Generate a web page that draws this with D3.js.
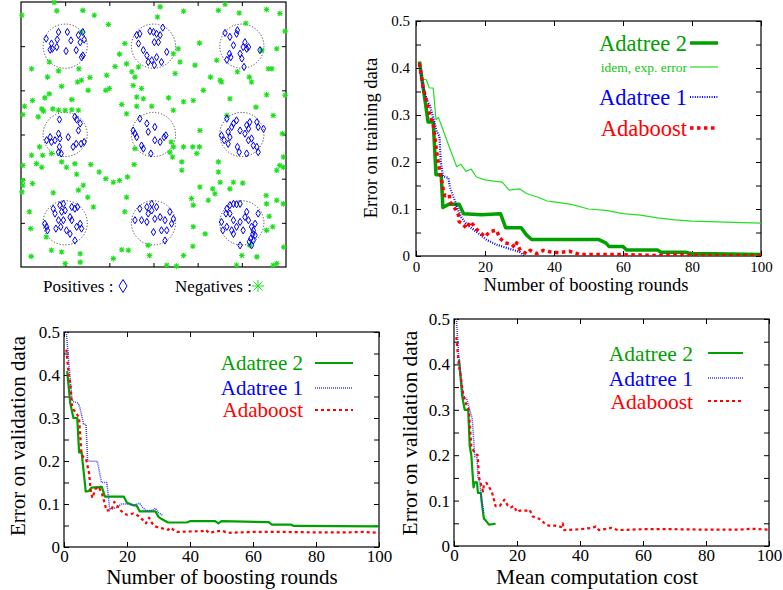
<!DOCTYPE html>
<html>
<head>
<meta charset="utf-8">
<script src="https://cdn.jsdelivr.net/npm/d3@7"></script>
<style>
  body { margin: 0; background: #fff; }
  svg { display: block; }
  svg text { font-family: "Liberation Serif", "Times New Roman", serif !important; }
</style>
</head>
<body>
<div id="chart"></div>
<script>
// ---- data: scatter (top left) ----
var circleCenters = [[1,5],[3,5],[5,5],[1,3],[3,3],[5,3],[1,1],[3,1],[5,1]];
var circleRadius = 0.5;

var positives = [
  // (1,5)
  [0.57,5.17],[0.69,5.06],[0.66,4.92],[0.71,4.94],[0.85,5.32],[0.82,5.15],[0.81,4.98],[1.05,5.32],[1.02,4.89],
  [1.13,5.13],[1.25,4.91],[1.30,5.25],[1.34,5.09],[1.40,5.32],[1.43,5.15],[1.40,4.79],[1.37,4.75],
  // (3,5)
  [2.62,5.25],[2.69,5.28],[2.92,5.34],[3.00,5.32],[3.07,5.28],[3.21,5.42],[3.15,5.25],[3.02,5.09],[3.11,5.09],
  [2.77,4.91],[2.85,4.79],[2.88,4.64],[2.96,4.68],[3.02,4.57],[3.07,4.75],[3.18,4.64],[3.30,4.87],[2.66,5.06],
  // (5,5)
  [4.62,5.30],[4.73,5.21],[4.88,5.28],[4.90,5.36],[4.81,5.02],[4.72,4.83],[4.66,4.69],[4.75,4.75],[4.96,4.83],
  [5.00,4.72],[5.03,4.98],[5.07,5.09],[5.11,4.94],[5.05,4.53],[5.41,4.91],[5.15,4.98],
  // (1,3)
  [0.87,3.34],[1.22,3.40],[1.26,3.34],[1.34,3.25],[1.30,3.09],[0.66,2.94],[0.69,2.83],[0.77,2.87],[0.85,3.02],
  [0.88,2.91],[0.87,2.72],[0.91,2.57],[0.85,2.60],[1.07,2.94],[1.18,2.72],[1.25,2.79],[1.36,2.79],[1.43,2.83],[0.58,2.87],
  // (3,3)
  [2.69,3.36],[2.85,3.25],[3.03,3.17],[2.54,3.09],[2.58,3.02],[2.62,2.94],[2.73,2.75],[2.77,2.68],[2.94,2.57],
  [3.03,2.87],[3.15,2.83],[3.24,2.94],[3.28,2.98],[2.88,3.06],
  // (5,3)
  [4.66,3.36],[4.81,3.25],[4.88,3.32],[4.77,3.17],[4.69,3.06],[4.54,2.98],[4.60,2.87],[4.69,2.79],[4.73,2.94],
  [4.96,3.09],[5.11,3.21],[5.15,3.13],[5.18,3.28],[5.34,3.28],[5.37,3.17],[5.49,3.13],[4.90,2.72],[4.94,2.60],
  [5.11,2.57],[5.15,2.87],[5.22,2.91],[5.26,2.75],[5.34,2.72],[5.37,2.60],[5.07,3.02],
  // (1,1)
  [0.73,1.32],[0.77,1.21],[0.88,1.40],[0.92,1.25],[0.96,1.43],[1.00,1.28],[1.15,1.36],[1.22,1.32],[1.28,1.36],
  [1.11,1.13],[0.96,1.06],[0.90,0.91],[0.79,0.87],[0.54,0.98],[0.58,0.91],[0.60,0.83],[1.03,0.83],[1.11,0.75],
  [1.26,0.91],[1.34,0.98],[1.37,0.87],[1.22,0.60],[1.15,1.06],[0.85,1.06],
  // (3,1)
  [2.69,1.32],[2.85,1.36],[2.88,1.21],[2.96,1.28],[2.73,1.06],[2.85,1.02],[2.58,1.06],[3.03,1.09],[3.15,1.13],
  [3.26,1.06],[3.37,1.25],[3.45,1.09],[3.41,0.98],[3.30,0.83],[3.18,0.83],[3.00,0.79],[3.26,0.60],[2.96,1.43],[3.07,1.36],
  // (5,1)
  [4.66,1.32],[4.73,1.40],[4.81,1.43],[4.88,1.42],[4.96,1.43],[4.64,1.21],[4.73,1.21],[4.81,1.06],[4.54,1.02],
  [4.66,0.91],[4.77,0.83],[4.88,0.91],[4.96,1.02],[5.07,1.13],[5.11,1.25],[5.15,1.06],[5.37,1.21],[4.96,0.49],
  [5.22,0.91],[5.26,0.83],[5.25,0.75],[5.30,0.72],[5.20,0.64],[5.26,0.60],[5.17,0.57],[5.22,0.49],[5.30,0.98],
  [4.57,0.83],[4.81,0.75],[5.03,0.83]
];

var negatives = [
  [0.02,5.70],[0.75,5.99],[0.81,5.80],[1.40,5.81],[1.66,5.70],[1.37,5.32],[1.98,5.49],[2.35,5.06],[2.23,4.82],
  [2.13,4.54],[2.39,4.60],[2.51,4.42],[2.58,4.30],[2.54,4.11],[2.73,4.04],[2.62,3.85],[2.77,3.81],[2.66,4.53],
  [3.15,5.89],[3.09,5.66],[3.68,5.79],[4.04,5.07],[3.45,4.83],[3.56,4.94],[3.60,4.64],[3.49,4.38],[3.94,4.57],
  [4.29,4.30],[4.47,5.81],[4.51,4.23],[4.54,4.19],[4.43,4.68],[4.62,5.95],[4.94,5.75],[5.09,5.52],[4.90,4.42],
  [5.17,4.30],[5.22,4.19],[5.56,5.83],[5.86,5.74],[5.98,5.34],[5.79,4.94],[5.60,4.49],[5.68,4.49],[5.45,4.91],
  [0.24,4.49],[0.64,4.64],[0.85,4.44],[1.31,4.49],[1.56,4.29],[0.60,4.30],[1.28,4.19],[1.37,4.23],[0.92,4.09],
  [1.52,4.00],[0.64,3.92],[0.54,3.83],[0.26,3.77],[0.08,3.64],[0.04,3.45],[0.39,3.40],[0.47,3.58],[0.51,3.53],
  [0.72,3.58],[0.85,3.55],[1.00,3.55],[1.15,3.79],[1.15,3.56],[1.30,3.55],[1.94,4.34],[1.92,4.00],[2.00,4.04],
  [2.28,3.68],[2.39,3.47],[2.62,3.64],[2.96,3.64],[3.34,3.83],[3.68,3.74],[3.90,3.77],[4.13,4.00],[3.45,3.55],
  [4.73,3.81],[5.32,3.62],[5.56,3.90],[5.71,3.43],[5.98,3.89],[5.92,3.02],[4.66,3.43],[4.05,3.09],[3.40,2.83],
  [3.45,2.72],[3.37,2.60],[3.43,2.49],[3.68,2.72],[3.89,2.72],[4.04,2.72],[3.98,2.57],[3.64,2.38],[3.64,2.19],
  [2.58,2.68],[2.56,2.32],[4.47,2.38],[4.47,2.15],[4.51,1.92],[4.81,1.92],[5.02,1.90],[4.73,1.77],[4.34,1.77],
  [4.39,1.66],[4.05,1.81],[3.86,1.55],[3.90,1.40],[4.24,1.51],[5.55,1.62],[5.56,1.43],[5.79,1.51],[5.94,2.26],
  [5.86,2.30],[5.94,2.49],[5.79,2.19],[5.94,1.43],[5.62,1.15],[5.70,0.91],[5.95,0.45],[5.71,0.04],[5.79,0.08],
  [0.24,2.53],[0.42,2.72],[0.49,2.53],[0.35,2.34],[0.47,2.26],[0.69,2.57],[0.92,2.38],[1.03,2.26],[1.22,2.34],
  [1.58,2.32],[1.26,2.10],[1.41,1.85],[1.30,1.74],[1.77,2.15],[1.92,2.00],[2.09,1.92],[2.23,1.96],[2.41,2.04],
  [0.04,2.30],[0.04,1.96],[0.04,1.85],[0.02,1.70],[0.26,1.89],[0.73,1.68],[1.51,1.58],[1.64,1.36],[2.39,1.58],
  [2.35,1.25],[0.19,1.25],[0.22,0.87],[0.57,0.68],[0.69,0.38],[0.92,0.34],[1.00,0.08],[1.34,0.30],[1.34,0.11],
  [0.23,0.24],[2.09,0.19],[2.28,0.39],[2.43,0.38],[2.88,0.49],[2.91,0.26],[3.30,0.04],[3.52,0.02],[3.68,0.26],
  [3.89,0.47],[3.90,0.91],[4.17,0.75],[5.18,0.49],[5.00,0.26],[5.34,0.23],[4.88,0.04],[5.56,0.83]
];

// ---- data: error curves, [round or cost, error] ----
var xTickValues = [0, 20, 40, 60, 80, 100];
var xTickLabels = ["0", "20", "40", "60", "80", "100"];
var yTickValues = [0, 0.05, 0.1, 0.15, 0.2, 0.25, 0.3, 0.35, 0.4, 0.45, 0.5];
var yTickLabels = ["0", "", "0.1", "", "0.2", "", "0.3", "", "0.4", "", "0.5"];

var trainAdatree2 = [[1,0.414],[3.5,0.285],[5,0.285],[5.8,0.173],[7.3,0.173],[7.8,0.103],[9.5,0.11],[12.5,0.11],
  [13.8,0.09],[19,0.088],[24.5,0.09],[26,0.06],[30.5,0.06],[32,0.045],[33.5,0.035],[53,0.035],[55,0.028],[56,0.02],
  [60,0.02],[61,0.013],[70,0.013],[71,0.008],[78,0.008],[80,0.005],[86,0.005],[100,0.003]];
var trainAdatree2Exp = [[1,0.41],[1.6,0.377],[3,0.375],[3.8,0.358],[5,0.357],[5.8,0.29],[6.5,0.295],[8,0.265],
  [10,0.225],[11.8,0.19],[13,0.195],[14.5,0.18],[16,0.185],[17.5,0.168],[20,0.162],[22,0.16],[25,0.157],[27,0.14],
  [30,0.143],[32,0.133],[35,0.126],[38,0.117],[40,0.115],[45,0.11],[50,0.1],[55,0.097],[60,0.09],[65,0.087],
  [70,0.081],[75,0.077],[80,0.074],[85,0.073],[90,0.072],[100,0.07]];
var trainAdatree1 = [[1,0.41],[2,0.36],[3,0.335],[4,0.32],[5,0.295],[6,0.265],[6.8,0.255],[7.2,0.2],[7.8,0.17],
  [9.4,0.166],[9.8,0.147],[11.2,0.119],[12.2,0.098],[13.2,0.082],[14.7,0.067],[17.6,0.051],[20.5,0.034],
  [23.4,0.024],[27.2,0.015],[30,0.009],[31.4,0]];
var trainAdaboost = [[1,0.41],[2,0.36],[3,0.33],[4,0.3],[5,0.28],[6,0.22],[7,0.175],[7.7,0.151],[8,0.134],
  [8.4,0.128],[9.7,0.13],[9.8,0.116],[10.8,0.105],[11.6,0.098],[12.3,0.087],[12.5,0.073],[13.3,0.07],[14.7,0.059],
  [15.7,0.073],[16.6,0.066],[17.8,0.055],[20,0.041],[21.4,0.052],[23.3,0.055],[24.3,0.038],[25.8,0.028],
  [27.7,0.025],[28.7,0.018],[29.2,0.028],[30.2,0.012],[32.1,0.005],[33.1,0.012],[35,0.005],[36.9,0.012],
  [38.8,0.009],[41.3,0.007],[44.6,0.01],[47.5,0.003],[50.4,0.003],[55,0.003],[60,0.003],[65,0.002],[70,0.001],
  [75,0.003],[80,0.002],[85,0.001],[90,0.001],[100,0.001]];

var validAdatree2 = [[1,0.409],[2,0.334],[3,0.3],[4.2,0.3],[4.8,0.22],[5.6,0.22],[6.9,0.129],[7.8,0.13],
  [8.7,0.138],[12,0.14],[13,0.117],[19,0.117],[20,0.103],[21,0.1],[22,0.097],[23,0.097],[24,0.083],[29,0.083],
  [30,0.07],[31,0.065],[33,0.057],[39,0.057],[40,0.06],[48,0.06],[49,0.055],[50,0.06],[65,0.058],[66,0.052],
  [72,0.052],[73,0.049],[100,0.048]];
var validAdatree1 = [[0.75,0.5],[1.5,0.43],[2,0.39],[2.5,0.345],[3,0.338],[4.5,0.335],[5,0.325],[5.5,0.31],
  [6.2,0.286],[7,0.285],[7.5,0.2],[10.6,0.199],[11.9,0.15],[13.6,0.15],[14.5,0.088],[16,0.09],[17,0.093],
  [18.2,0.1],[20,0.1],[22,0.097],[24,0.102],[25,0.092],[26,0.085],[28,0.085],[29,0.09],[30,0.08],[31.4,0.073]];
var validAdaboost = [[0.75,0.459],[1.5,0.4],[2,0.38],[2.5,0.33],[3,0.32],[4,0.31],[4.8,0.3],[5.5,0.222],[6,0.21],
  [7,0.205],[8,0.17],[8.5,0.13],[9,0.114],[10,0.135],[11,0.14],[12,0.125],[13,0.1],[13.4,0.085],[15,0.085],
  [16,0.105],[17,0.095],[18,0.085],[19,0.078],[20,0.075],[22,0.078],[23,0.075],[24,0.07],[25,0.063],[26,0.055],
  [27,0.068],[28,0.055],[29,0.048],[30,0.045],[32,0.042],[33,0.04],[34,0.045],[35,0.038],[36,0.035],[40,0.036],
  [44,0.037],[45,0.04],[46,0.033],[50,0.038],[52,0.033],[60,0.035],[70,0.035],[80,0.034],[90,0.034],[95,0.035],
  [100,0.033]];

var costAdatree2 = [[1.6,0.41],[2.6,0.33],[3.4,0.3],[4.5,0.3],[5,0.22],[5.5,0.2],[6.2,0.129],[6.6,0.14],[7.3,0.14],
  [7.6,0.117],[8.5,0.117],[9,0.085],[9.5,0.06],[10,0.057],[11.1,0.047],[13.2,0.049]];
var costAdatree1 = [[0.74,0.5],[1.5,0.42],[2,0.39],[3,0.33],[4,0.325],[5,0.3],[5.8,0.28],[6.6,0.197],[7.3,0.195],
  [7.6,0.15],[8.2,0.14],[8.7,0.1],[9.1,0.09],[9.5,0.071]];
var costAdaboost = [[0.74,0.46],[1.5,0.4],[2,0.38],[3,0.33],[4,0.31],[4.7,0.3],[5.5,0.22],[6.6,0.204],[7.5,0.2],
  [8,0.15],[9.2,0.12],[9.5,0.135],[10.3,0.139],[12,0.12],[13.2,0.088],[14.5,0.088],[16,0.102],[17,0.09],[18,0.085],
  [19,0.088],[20,0.075],[21,0.078],[23,0.078],[24,0.08],[25,0.065],[27,0.06],[28,0.055],[29,0.048],[30,0.045],
  [32,0.045],[34,0.042],[34.5,0.05],[35,0.035],[40,0.037],[44,0.04],[45,0.043],[46,0.035],[50,0.04],[52,0.035],
  [60,0.037],[70,0.037],[80,0.036],[90,0.036],[95,0.038],[100,0.036]];

var serif = '"Liberation Serif", "Times New Roman", serif';

var svg = d3.select("#chart").append("svg")
  .attr("width", 783)
  .attr("height", 590)
  .style("font-family", serif);

// ---------------- scatter panel ----------------
var sx = d3.scaleLinear().domain([0, 6]).range([21, 286]);
var sy = d3.scaleLinear().domain([0, 6]).range([267, 2]);
var scatterTicks = [1, 2, 3, 4, 5];

function plainAxis(axis, tr) {
  var a = svg.append("g").attr("transform", tr)
    .call(axis.tickValues(scatterTicks).tickFormat("").tickSize(-4));
  a.select(".domain").remove();
  a.selectAll("line").attr("stroke", "#000");
}
plainAxis(d3.axisBottom(sx), "translate(0," + sy(0) + ")");
plainAxis(d3.axisTop(sx), "translate(0," + sy(6) + ")");
plainAxis(d3.axisLeft(sy), "translate(" + sx(0) + ",0)");
plainAxis(d3.axisRight(sy), "translate(" + sx(6) + ",0)");

svg.append("rect")
  .attr("x", sx(0)).attr("y", sy(6))
  .attr("width", sx(6) - sx(0)).attr("height", sy(0) - sy(6))
  .attr("fill", "none").attr("stroke", "#000").attr("stroke-width", 1.2);

svg.append("g").selectAll("circle")
  .data(circleCenters)
  .enter().append("circle")
  .attr("cx", function(d) { return sx(d[0]); })
  .attr("cy", function(d) { return sy(d[1]); })
  .attr("r", sx(circleRadius) - sx(0))
  .attr("fill", "none")
  .attr("stroke", "#333")
  .attr("stroke-width", 0.9)
  .attr("stroke-dasharray", "1.2,1.8");

function diamond(w, h) { return "M0," + (-h) + "L" + w + ",0L0," + h + "L" + (-w) + ",0Z"; }
function star(s) {
  var t = s * 0.75;
  return "M" + (-s) + ",0H" + s + "M0," + (-s) + "V" + s +
    "M" + (-t) + "," + (-t) + "L" + t + "," + t + "M" + (-t) + "," + t + "L" + t + "," + (-t);
}

svg.append("g").selectAll("path")
  .data(negatives)
  .enter().append("path")
  .attr("transform", function(d) { return "translate(" + sx(d[0]) + "," + sy(d[1]) + ")"; })
  .attr("d", star(2.8))
  .attr("fill", "none")
  .attr("stroke", "#1ee01e")
  .attr("stroke-width", 1.1);

svg.append("g").selectAll("path")
  .data(positives)
  .enter().append("path")
  .attr("transform", function(d) { return "translate(" + sx(d[0]) + "," + sy(d[1]) + ")"; })
  .attr("d", diamond(2.2, 3.6))
  .attr("fill", "none")
  .attr("stroke", "#0000ee")
  .attr("stroke-width", 1);

svg.append("text").attr("x", 43).attr("y", 292).attr("font-size", 17).text("Positives :");
svg.append("path").attr("transform", "translate(123,286)").attr("d", diamond(4, 6.5))
  .attr("fill", "none").attr("stroke", "#0000ee").attr("stroke-width", 1);
svg.append("text").attr("x", 175).attr("y", 292).attr("font-size", 17).text("Negatives :");
svg.append("path").attr("transform", "translate(258,286)").attr("d", star(6))
  .attr("fill", "none").attr("stroke", "#1ee01e").attr("stroke-width", 1);

// ---------------- error curve panels ----------------
var clipId = 0;
function linePanel(p) {
  var x = d3.scaleLinear().domain([0, 100]).range([p.left, p.right]);
  var y = d3.scaleLinear().domain([0, 0.5]).range([p.bottom, p.top]);
  var g = svg.append("g");

  function styleAxis(a) {
    a.attr("font-family", null).style("font-family", serif);
    a.select(".domain").remove();
    a.selectAll("line").attr("stroke", "#000");
    a.selectAll("text").attr("fill", "#000").attr("font-size", p.tickFont)
      .style("font-family", serif);
  }
  styleAxis(g.append("g").attr("transform", "translate(0," + p.bottom + ")")
    .call(d3.axisBottom(x).tickValues(xTickValues).tickFormat(function(d, i) { return xTickLabels[i]; })
      .tickSize(-5).tickPadding(p.xPad)));
  styleAxis(g.append("g").attr("transform", "translate(0," + p.top + ")")
    .call(d3.axisTop(x).tickValues(xTickValues).tickFormat("").tickSize(-5)));
  styleAxis(g.append("g").attr("transform", "translate(" + p.left + ",0)")
    .call(d3.axisLeft(y).tickValues(yTickValues).tickFormat(function(d, i) { return yTickLabels[i]; })
      .tickSize(-5).tickPadding(p.yPad)));
  styleAxis(g.append("g").attr("transform", "translate(" + p.right + ",0)")
    .call(d3.axisRight(y).tickValues(yTickValues).tickFormat("").tickSize(-5)));

  g.append("rect")
    .attr("x", p.left).attr("y", p.top)
    .attr("width", p.right - p.left).attr("height", p.bottom - p.top)
    .attr("fill", "none").attr("stroke", "#000").attr("stroke-width", 1.2);

  var id = "clip" + (clipId++);
  g.append("clipPath").attr("id", id).append("rect")
    .attr("x", p.left).attr("y", p.top - 2)
    .attr("width", p.right - p.left).attr("height", p.bottom - p.top + 2);

  var line = d3.line()
    .x(function(d) { return x(d[0]); })
    .y(function(d) { return y(d[1]); });

  p.series.forEach(function(s) {
    g.append("path")
      .datum(s.data)
      .attr("clip-path", "url(#" + id + ")")
      .attr("d", line)
      .attr("fill", "none")
      .attr("stroke", s.color)
      .attr("stroke-width", s.width)
      .attr("stroke-dasharray", s.dash || null)
      .attr("stroke-linejoin", "round");

    g.append("text")
      .attr("x", p.legX).attr("y", s.legY).attr("dy", "0.35em")
      .attr("text-anchor", "end")
      .attr("font-size", s.legFont || p.legFont)
      .attr("fill", s.textColor || s.color)
      .style("font-family", serif)
      .text(s.label);
    g.append("line")
      .attr("x1", p.legX1).attr("x2", p.legX2)
      .attr("y1", s.legY).attr("y2", s.legY)
      .attr("stroke", s.color)
      .attr("stroke-width", s.width)
      .attr("stroke-dasharray", s.dash || null);
  });

  g.append("text")
    .attr("x", p.xTitleX).attr("y", p.xTitleY)
    .attr("text-anchor", "middle").attr("font-size", p.titleFont)
    .style("font-family", serif)
    .text(p.xTitle);
  g.append("text")
    .attr("transform", "translate(" + p.yTitleX + "," + p.yTitleY + ") rotate(-90)")
    .attr("dy", "0.35em")
    .attr("text-anchor", "middle").attr("font-size", p.titleFont)
    .style("font-family", serif)
    .text(p.yTitle);
}

var darkGreen = "#00a000", lightGreen = "#22e022", blue = "#0000ff", red = "#ff0000";

linePanel({
  left: 416, right: 761, top: 21, bottom: 256,
  tickFont: 15, xPad: 5, yPad: 6, titleFont: 18.6, legFont: 22.5,
  xTitle: "Number of boosting rounds", xTitleX: 586, xTitleY: 291,
  yTitle: "Error on training data", yTitleX: 370, yTitleY: 138,
  legX: 687, legX1: 690, legX2: 718,
  series: [
    { data: trainAdatree2Exp, color: lightGreen, width: 1.2, label: "idem, exp. error", legY: 67, legFont: 13.5, textColor: "#10c810" },
    { data: trainAdatree2, color: darkGreen, width: 3.5, label: "Adatree 2", legY: 43 },
    { data: trainAdatree1, color: blue, width: 2.2, dash: "1,1.4", label: "Adatree 1", legY: 97 },
    { data: trainAdaboost, color: red, width: 3.5, dash: "3.5,3.5", label: "Adaboost", legY: 128 }
  ]
});

linePanel({
  left: 64, right: 379, top: 332, bottom: 547,
  tickFont: 17, xPad: 3, yPad: 4, titleFont: 21, legFont: 21,
  xTitle: "Number of boosting rounds", xTitleX: 222, xTitleY: 584,
  yTitle: "Error on validation data", yTitleX: 18, yTitleY: 436,
  legX: 303, legX1: 315, legX2: 353,
  series: [
    { data: validAdatree2, color: darkGreen, width: 2.2, label: "Adatree 2", legY: 363 },
    { data: validAdatree1, color: "#3a3aff", width: 1.5, dash: "1,1", label: "Adatree 1", legY: 388, textColor: blue },
    { data: validAdaboost, color: red, width: 2.2, dash: "3,3", label: "Adaboost", legY: 410 }
  ]
});

linePanel({
  left: 454, right: 769, top: 319, bottom: 546,
  tickFont: 17, xPad: 3, yPad: 4, titleFont: 21.5, legFont: 21.5,
  xTitle: "Mean computation cost", xTitleX: 597, xTitleY: 584,
  yTitle: "Error on validation data", yTitleX: 409, yTitleY: 433,
  legX: 693, legX1: 708, legX2: 743,
  series: [
    { data: costAdatree2, color: darkGreen, width: 2.2, label: "Adatree 2", legY: 353 },
    { data: costAdatree1, color: "#3a3aff", width: 1.5, dash: "1,1", label: "Adatree 1", legY: 378, textColor: blue },
    { data: costAdaboost, color: red, width: 2.2, dash: "3,3", label: "Adaboost", legY: 401 }
  ]
});
</script>
</body>
</html>
